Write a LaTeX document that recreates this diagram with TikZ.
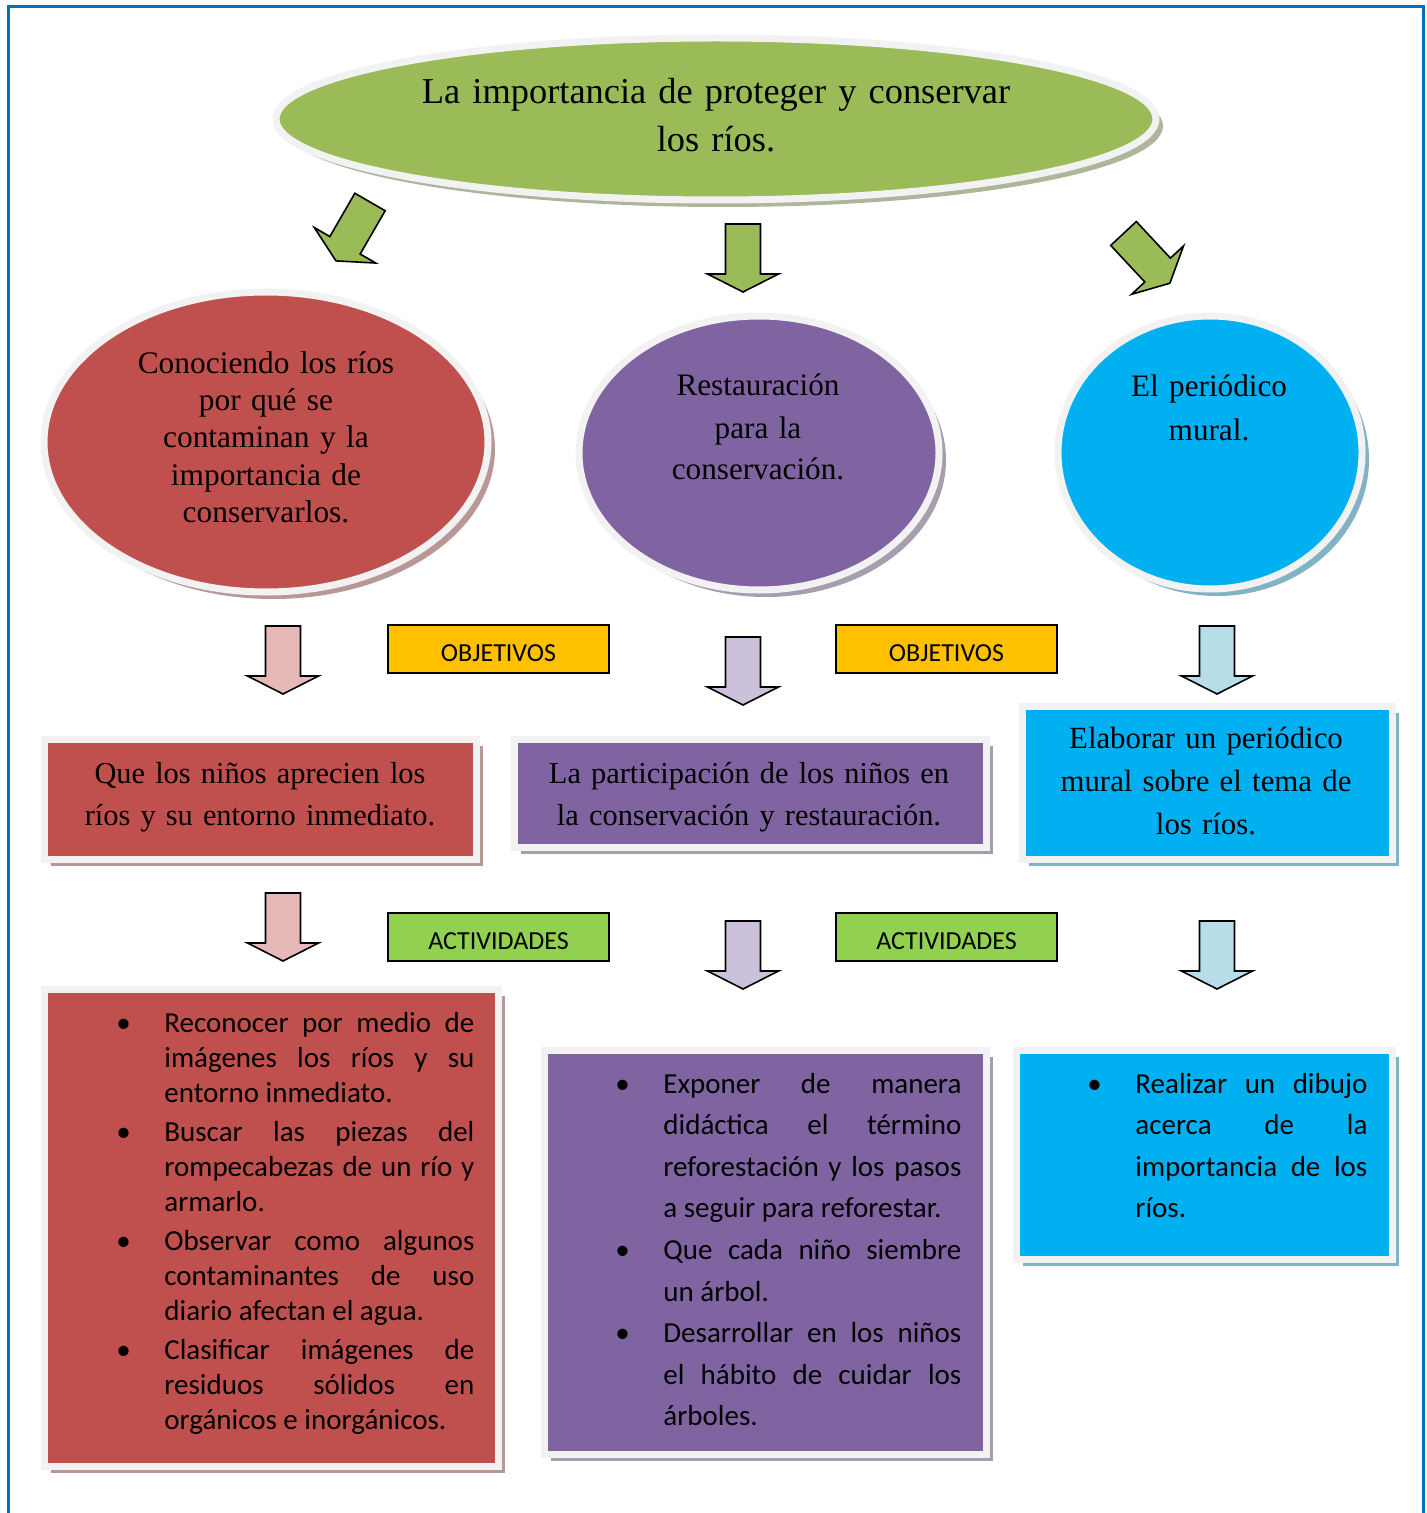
\documentclass[tikz,border=0pt]{standalone}
\usepackage{fontspec}
\setmainfont{Liberation Serif}
\newfontfamily\calibri{Carlito}
\usetikzlibrary{shapes.geometric,shadows}

\definecolor{verde}{HTML}{9BBB59}
\definecolor{rojo}{HTML}{C0504D}
\definecolor{morado}{HTML}{8064A2}
\definecolor{azul}{HTML}{00B0F0}
\definecolor{naranja}{HTML}{FFC000}
\definecolor{verdeclaro}{HTML}{92D050}
\definecolor{rosa}{HTML}{E6B9B8}
\definecolor{lila}{HTML}{CCC1DA}
\definecolor{celeste}{HTML}{B7DEE8}
\definecolor{borde}{HTML}{F2F2F2}
\definecolor{marco}{HTML}{0070C0}

\newcommand\bul{\leavevmode\llap{\makebox[24pt][l]{\textbullet}}}
\hyphenpenalty=10000
\tolerance=9999
\hbadness=10000

\begin{document}
\begin{tikzpicture}[x=0.5pt,y=-0.5pt,
  elip/.style={ellipse,draw=borde,line width=3.5pt,fill=#1,
    drop shadow={shadow xshift=3.5pt,shadow yshift=-3.5pt,fill=#1!40!gray,opacity=.7}},
  caja/.style={rectangle,draw=borde,line width=3.5pt,fill=#1,
    drop shadow={shadow xshift=3.5pt,shadow yshift=-3.5pt,fill=#1!40!gray,opacity=.7}},
  tx/.style={anchor=base,text width=240pt,align=center,font=\fontsize{15.6}{21}\selectfont},
  lista/.style={anchor=base west,inner sep=0pt,align=justify,font=\calibri\fontsize{14.5}{20.8}\selectfont},
  etiq/.style={draw,line width=.8pt,fill=#1,minimum width=110.5pt,minimum height=24pt,
    inner sep=0pt,text height=12pt,text depth=0pt,font=\calibri\fontsize{13}{15}\selectfont},
  flecha/.pic={\filldraw[fill=#1,line width=.8pt] (-17.5,0) -- (17.5,0) -- (17.5,50)
    -- (35.5,50) -- (0,68) -- (-35.5,50) -- (-17.5,50) -- cycle;}]
\useasboundingbox (0,0) rectangle (1427,1513);
\draw[marco,line width=1.5pt] (8,1530) -- (8,7) -- (1423,7) -- (1423,1530);

\node[elip=verde,minimum width=440pt,minimum height=81pt] (t) at (716,119) {};
\node[tx,text width=320pt,font=\fontsize{18.2}{24}\selectfont] (ta) at (716,104)
  {La importancia de proteger y conservar\\los ríos.};

\pic[rotate=-30] at (370,202) {flecha=verde};
\pic at (743,224) {flecha=verde};
\pic[rotate=43] at (1123.5,233.5) {flecha=verde};

\node[elip=rojo,minimum width=222pt,minimum height=150pt] (c1) at (266,442) {};
\node[tx,font=\fontsize{15.7}{18.5}\selectfont] (c1a) at (266,374)
  {Conociendo los ríos\\por qué se\\contaminan y la\\importancia de\\conservarlos.};
\node[elip=morado,minimum width=180pt,minimum height=137pt] (c2) at (759,453) {};
\node[tx] (c2a) at (758,396) {Restauración\\para la\\conservación.};
\node[elip=azul,minimum width=152pt,minimum height=136.5pt] (c3) at (1210,452.5) {};
\node[tx,font=\fontsize{15.6}{21.5}\selectfont] (c3a) at (1209,397) {El periódico\\mural.};

\pic at (283,626) {flecha=rosa};
\pic at (743,637) {flecha=lila};
\pic at (1217,626) {flecha=celeste};
\node[etiq=naranja] (l1) at (498.5,649) {OBJETIVOS};
\node[etiq=naranja] (l2) at (946.5,649) {OBJETIVOS};

\node[caja=rojo,minimum width=216pt,minimum height=60pt] (b1) at (260,799) {};
\node[tx,font=\fontsize{15.2}{21}\selectfont] (b1a) at (260,783) {Que los niños aprecien los\\ríos y su entorno inmediato.};
\node[caja=morado,minimum width=236pt,minimum height=54pt] (b2) at (750,793) {};
\node[tx,font=\fontsize{15.2}{21}\selectfont] (b2a) at (749,783) {La participación de los niños en\\la conservación y restauración.};
\node[caja=azul,minimum width=185pt,minimum height=76.5pt] (b3) at (1207,782.5) {};
\node[tx,font=\fontsize{15.4}{21.5}\selectfont] (b3a) at (1206,748)
  {Elaborar un periódico\\mural sobre el tema de\\los ríos.};

\pic at (283,893) {flecha=rosa};
\pic at (743,921) {flecha=lila};
\pic at (1217,921) {flecha=celeste};
\node[etiq=verdeclaro] (l3) at (498.5,937) {ACTIVIDADES};
\node[etiq=verdeclaro] (l4) at (946.5,937) {ACTIVIDADES};

\node[caja=rojo,minimum width=227pt,minimum height=238.5pt] (d1) at (271,1227.5) {};
\node[lista,text width=155pt,font=\calibri\fontsize{14.5}{17.5}\selectfont] (d1a) at (164,1032)
  {\parskip=2pt
  \bul Reconocer por medio de\linebreak imágenes los ríos y su\linebreak entorno inmediato.\par
  \bul Buscar las piezas del\linebreak rompecabezas de un río y\linebreak armarlo.\par
  \bul Observar como algunos\linebreak contaminantes de uso\linebreak diario afectan el agua.\par
  \bul Clasificar imágenes de\linebreak residuos sólidos en\linebreak orgánicos e inorgánicos.};
\node[caja=morado,minimum width=221pt,minimum height=202pt] (d2) at (765,1252) {};
\node[lista,text width=149pt] (d2a) at (663,1093)
  {\bul Exponer de manera\linebreak didáctica el término\linebreak reforestación y los pasos\linebreak a seguir para reforestar.\par
  \bul Que cada niño siembre\linebreak un árbol.\par
  \bul Desarrollar en los niños\linebreak el hábito de cuidar los\linebreak árboles.};
\node[caja=azul,minimum width=188pt,minimum height=104.5pt] (d3) at (1204,1154.5) {};
\node[lista,text width=116pt] (d3a) at (1135,1093)
  {\bul Realizar un dibujo\linebreak acerca de la\linebreak importancia de los\linebreak ríos.};
\end{tikzpicture}
\end{document}
